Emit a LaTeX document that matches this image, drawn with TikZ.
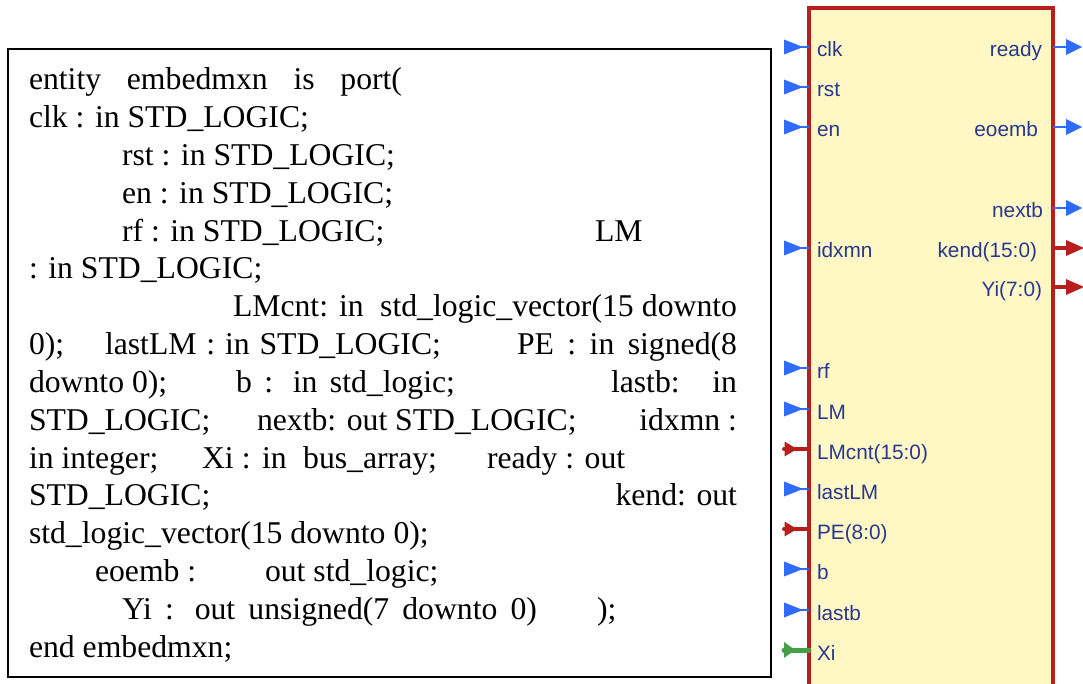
\documentclass[tikz,border=0pt]{standalone}
\usepackage{fontspec}
\setmainfont{Liberation Serif}
\newfontfamily\lblfont{Liberation Sans}
\definecolor{blkfill}{HTML}{FFF8C5}
\definecolor{blkred}{HTML}{B71F1F}
\definecolor{portblue}{HTML}{2F6BFF}
\definecolor{portgreen}{HTML}{43A047}
\definecolor{lblnavy}{HTML}{28378F}
\begin{document}
\begin{tikzpicture}[x=1pt,y=-1pt,
  code/.style={anchor=base west, inner sep=0pt, outer sep=0pt, text=black, font=\fontsize{31.7}{38}\selectfont},
  codeR/.style={code, anchor=base east},
  lbl/.style={inner sep=0pt, outer sep=0pt, text=lblnavy, font=\lblfont\fontsize{20.8}{24}\selectfont},
  lblL/.style={lbl, anchor=base west},
  lblR/.style={lbl, anchor=base east},
  textbox/.style={draw=black, line width=2pt, fill=white},
  blockbox/.style={draw=blkred, line width=3.5pt, fill=blkfill, inner sep=0pt, outer sep=0pt},
  bluewire/.style={draw=portblue, line width=1.6pt},
  redwire/.style={draw=blkred, line width=4pt, line cap=round},
  greenwire/.style={draw=portgreen, line width=5pt, line cap=round}]
\clip (0,0) rectangle (1083,684);
\fill[white] (0,0) rectangle (1083,684);

% ---------- VHDL text box ----------
\draw[textbox] (8,49) rectangle (771,677);
\node[code] (l1) at (29,90) {\makebox[373pt][s]{entity embedmxn is port(}};
\node[code] (l2) at (29,127.8) {clk : in STD\_LOGIC;};
\node[code] (l3) at (122,165.6) {rst : in STD\_LOGIC;};
\node[code] (l4) at (122,203.4) {en : in STD\_LOGIC;};
\node[code] (l5a) at (122,241.2) {rf : in STD\_LOGIC;};
\node[code] (l5b) at (595,241.2) {LM};
\node[code] (l6) at (29,279) {: in STD\_LOGIC;};
\node[code] (l7) at (233,316.8) {\makebox[504pt][s]{LMcnt: in\ \ std\_logic\_vector(15 downto}};
\node[code] (l8a) at (29,354.6) {0);};
\node[code] (l8b) at (105,354.6) {\makebox[336pt][s]{lastLM : in STD\_LOGIC;}};
\node[code] (l8c) at (517,354.6) {\makebox[220pt][s]{PE : in signed(8}};
\node[code] (l9a) at (29,392.4) {downto 0);};
\node[code] (l9b) at (236,392.4) {\makebox[219pt][s]{b : in std\_logic;}};
\node[code] (l9d) at (611,392.4) {\makebox[126pt][s]{lastb:\ \ in}};
\node[code] (l10a) at (29,430.2) {STD\_LOGIC;};
\node[code] (l10b) at (257,430.2) {nextb: out STD\_LOGIC;};
\node[codeR] (l10c) at (737,430.2) {idxmn :};
\node[code] (l11a) at (29,468) {in integer;};
\node[code] (l11b) at (202,468) {\makebox[235pt][s]{Xi : in\ \ bus\_array;}};
\node[code] (l11c) at (487,468) {ready : out};
\node[code] (l12a) at (29,505.8) {STD\_LOGIC;};
\node[codeR] (l12b) at (737,505.8) {kend: out};
\node[code] (l13) at (29,543.6) {std\_logic\_vector(15 downto 0);};
\node[code] (l14a) at (95,581.4) {eoemb :};
\node[code] (l14b) at (265,581.4) {out std\_logic;};
\node[code] (l15a) at (122,619.2) {\makebox[415pt][s]{Yi : out unsigned(7 downto 0)}};
\node[code] (l15b) at (597,619.2) {);};
\node[code] (l16) at (29,657) {end embedmxn;};

% ---------- entity block ----------
\node[blockbox, anchor=north west, minimum width=244pt, minimum height=720pt] (blk) at (809,8) {};

% left single-bit inputs
\foreach \nm/\yy/\lb in {clk/47/clk, rst/87/rst, en/127/en, idxmn/248/idxmn, rf/368/rf, LM/409/LM, lastLM/489/lastLM, b/569/b, lastb/610/lastb}{
  \coordinate (p\nm) at (blk.west |- 0,\yy);
  \coordinate (e\nm) at (785,\yy);
  \draw[bluewire] (p\nm) -- (e\nm);
  \fill[portblue] (784,\yy-7.5) -- (803,\yy) -- (784,\yy+7.5) -- cycle;
  \node[lblL] (n\nm) at (817,\yy+10) {\lb};
}
% left buses
\foreach \nm/\yy/\lb in {LMcnt/449/LMcnt(15:0), PE/529/PE(8:0)}{
  \coordinate (p\nm) at (blk.west |- 0,\yy);
  \coordinate (e\nm) at (784,\yy);
  \draw[redwire] (p\nm) -- (e\nm);
  \fill[blkred] (784.5,\yy-7.5) -- (797,\yy) -- (784.5,\yy+7.5) -- cycle;
  \node[lblL] (n\nm) at (817,\yy+10) {\lb};
}
% left array input
\coordinate (pXi) at (blk.west |- 0,650);
\coordinate (eXi) at (784,650);
\draw[greenwire] (pXi) -- (eXi);
\fill[portgreen] (784,642) -- (795,650) -- (784,658) -- cycle;
\node[lblL] (nXi) at (817,660) {Xi};

% right single-bit outputs
\foreach \nm/\yy/\lb/\xx in {ready/47/ready/1042, eoemb/127/eoemb/1038, nextb/208/nextb/1043}{
  \coordinate (p\nm) at (blk.east |- 0,\yy);
  \coordinate (e\nm) at (1082,\yy);
  \draw[bluewire] (p\nm) -- (1068,\yy);
  \fill[portblue] (1066,\yy-8) -- (e\nm) -- (1066,\yy+8) -- cycle;
  \node[lblR] (n\nm) at (\xx,\yy+10) {\lb};
}
% right buses
\foreach \nm/\yy/\lb/\xx in {kend/248/kend(15:0)/1037, Yi/287/Yi(7:0)/1042}{
  \coordinate (p\nm) at (blk.east |- 0,\yy);
  \coordinate (e\nm) at (1084,\yy);
  \draw[draw=blkred, line width=4pt] (p\nm) -- (1068,\yy);
  \fill[blkred] (1066,\yy-8) -- (e\nm) -- (1066,\yy+8) -- cycle;
  \node[lblR] (n\nm) at (\xx,\yy+10) {\lb};
}
\end{tikzpicture}
\end{document}
